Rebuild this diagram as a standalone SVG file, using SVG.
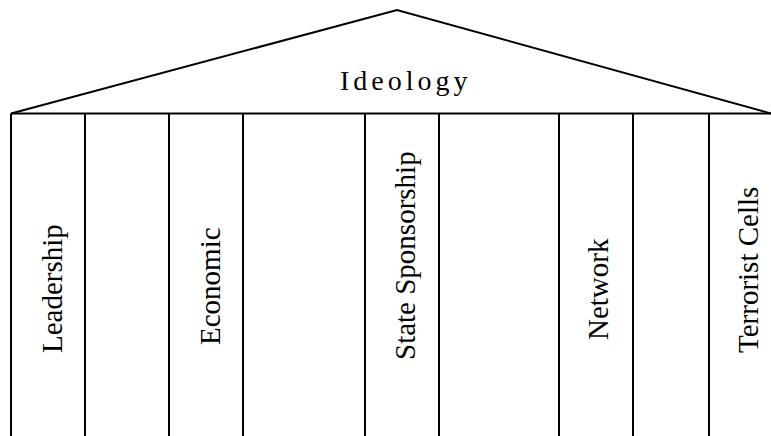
<svg xmlns="http://www.w3.org/2000/svg" width="771" height="436" viewBox="0 0 771 436">
<style>
.ln{stroke:#000;stroke-width:2;fill:none}
.lbl{font-family:"Liberation Serif","Times New Roman",serif;font-size:29px;fill:#000}
</style>
<rect width="771" height="436" fill="#fff"/>
<g id="roof">
<polyline class="ln" points="11,113.5 397,10 771,113.5"/>
<line class="ln" x1="11" y1="113.5" x2="771" y2="113.5"/>
<text class="lbl" x="340" y="89.5" style="font-size:28px;letter-spacing:4px">Ideology</text>
</g>
<g id="connectors">
<line class="ln" x1="11" y1="113.5" x2="11" y2="436"/>
<line class="ln" x1="85" y1="113.5" x2="85" y2="436"/>
<line class="ln" x1="169" y1="113.5" x2="169" y2="436"/>
<line class="ln" x1="243" y1="113.5" x2="243" y2="436"/>
<line class="ln" x1="365" y1="113.5" x2="365" y2="436"/>
<line class="ln" x1="439" y1="113.5" x2="439" y2="436"/>
<line class="ln" x1="559" y1="113.5" x2="559" y2="436"/>
<line class="ln" x1="633" y1="113.5" x2="633" y2="436"/>
<line class="ln" x1="709" y1="113.5" x2="709" y2="436"/>
</g>
<g id="leadership"><text class="lbl" x="62" y="353" transform="rotate(-90 62 353)">Leadership</text></g>
<g id="economic"><text class="lbl" x="220" y="345" transform="rotate(-90 220 345)">Economic</text></g>
<g id="state-sponsorship"><text class="lbl" x="415" y="360" transform="rotate(-90 415 360)">State Sponsorship</text></g>
<g id="network"><text class="lbl" x="608" y="340" transform="rotate(-90 608 340)">Network</text></g>
<g id="terrorist-cells"><text class="lbl" x="758" y="353" transform="rotate(-90 758 353)">Terrorist Cells</text></g>
</svg>
